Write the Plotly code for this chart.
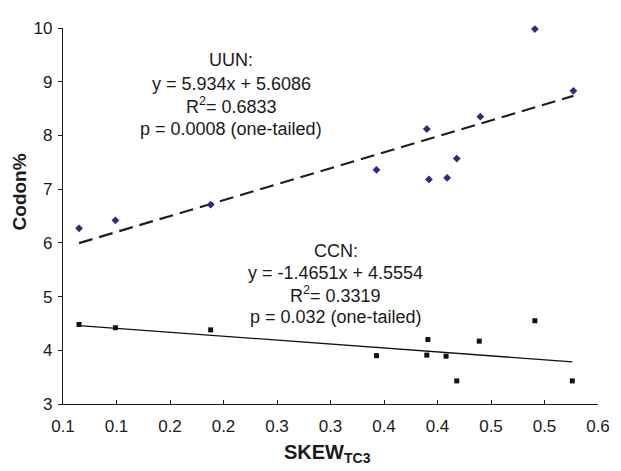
import plotly.graph_objects as go

# Data (x = SKEW_TC3, y = Codon%)
uun_x = [0.065, 0.099, 0.188, 0.343, 0.390, 0.392, 0.409, 0.418, 0.440, 0.491, 0.527]
uun_y = [6.27, 6.42, 6.71, 7.36, 8.12, 7.18, 7.21, 7.57, 8.35, 9.98, 8.83]
ccn_x = [0.065, 0.099, 0.188, 0.343, 0.391, 0.390, 0.408, 0.418, 0.439, 0.491, 0.526]
ccn_y = [4.48, 4.42, 4.38, 3.90, 4.20, 3.91, 3.89, 3.43, 4.17, 4.55, 3.43]

uun_slope, uun_int = 5.934, 5.6086
ccn_slope, ccn_int = -1.4651, 4.5554

x_tickvals = [0.05, 0.10, 0.15, 0.20, 0.25, 0.30, 0.35, 0.40, 0.45, 0.50, 0.55]
x_ticktext = ["0.1", "0.1", "0.2", "0.2", "0.3", "0.3", "0.4", "0.4", "0.5", "0.5", "0.6"]
y_tickvals = [3, 4, 5, 6, 7, 8, 9, 10]

uun_text = ["UUN:", "y = 5.934x + 5.6086", "R<sup>2</sup>= 0.6833", "p = 0.0008 (one-tailed)"]
ccn_text = ["CCN:", "y = -1.4651x + 4.5554", "R<sup>2</sup>= 0.3319", "p = 0.032 (one-tailed)"]

FONT = "Liberation Sans, Arial, sans-serif"

fig = go.Figure()

# trendlines
ux = [min(uun_x), max(uun_x)]
cx = [min(ccn_x), max(ccn_x)]
fig.add_trace(go.Scatter(x=ux, y=[uun_slope * v + uun_int for v in ux], mode="lines",
                         line=dict(color="#1e1e1e", width=2.2, dash="14px,7px"),
                         showlegend=False, hoverinfo="skip"))
fig.add_trace(go.Scatter(x=cx, y=[ccn_slope * v + ccn_int for v in cx], mode="lines",
                         line=dict(color="#111111", width=1.3),
                         showlegend=False, hoverinfo="skip"))

fig.add_trace(go.Scatter(x=uun_x, y=uun_y, mode="markers", name="UUN", cliponaxis=False,
                         marker=dict(symbol="diamond", size=6, color="#2e2a82"),
                         showlegend=False))
fig.add_trace(go.Scatter(x=ccn_x, y=ccn_y, mode="markers", name="CCN", cliponaxis=False,
                         marker=dict(symbol="square", size=5, color="#111111"),
                         showlegend=False))

anns = []
uun_ys = [9.40, 8.964, 8.564, 8.127]
ccn_ys = [5.855, 5.436, 5.036, 4.618]
for t, yy in zip(uun_text, uun_ys):
    anns.append(dict(x=0.2074, y=yy, xref="x", yref="y", text=t, showarrow=False,
                     font=dict(family=FONT, size=18, color="#1a1a1a"),
                     xanchor="center", yanchor="middle"))
for t, yy in zip(ccn_text, ccn_ys):
    anns.append(dict(x=0.305, y=yy, xref="x", yref="y", text=t, showarrow=False,
                     font=dict(family=FONT, size=18, color="#1a1a1a"),
                     xanchor="center", yanchor="middle"))

anns.append(dict(x=-0.082, y=0.563, xref="paper", yref="paper", text="<b>Codon%</b>",
                 textangle=-90, showarrow=False, xanchor="center", yanchor="middle",
                 font=dict(family=FONT, size=19, color="#1a1a1a")))
anns.append(dict(x=0.4936, y=-0.1325, xref="paper", yref="paper", text="<b>SKEW<sub>TC3</sub></b>",
                 showarrow=False, xanchor="center", yanchor="middle",
                 font=dict(family=FONT, size=20, color="#1a1a1a")))

# page body adds an 8px offset; size the figure so the plot area lands where the reference has it
fig.update_layout(
    width=613, height=463,
    margin=dict(l=55, r=15, t=11, b=67),
    paper_bgcolor="white", plot_bgcolor="white",
    annotations=anns,
    font=dict(family=FONT, size=17, color="#1a1a1a"),
)
fig.update_xaxes(range=[0.05, 0.55], tickvals=x_tickvals, ticktext=x_ticktext,
                 showline=True, linecolor="#1a1a1a", linewidth=1.3, mirror=False,
                 ticks="inside", ticklen=4, tickcolor="#1a1a1a", tickwidth=1.3,
                 ticklabelstandoff=6,
                 showgrid=False, zeroline=False, tickfont=dict(size=17))
fig.update_yaxes(range=[3, 10], tickvals=y_tickvals,
                 showline=True, linecolor="#1a1a1a", linewidth=1.3,
                 ticks="outside", ticklen=4, tickcolor="#1a1a1a", tickwidth=1.3,
                 ticklabelstandoff=2,
                 showgrid=False, zeroline=False, tickfont=dict(size=17))

fig.write_html("out.html")
